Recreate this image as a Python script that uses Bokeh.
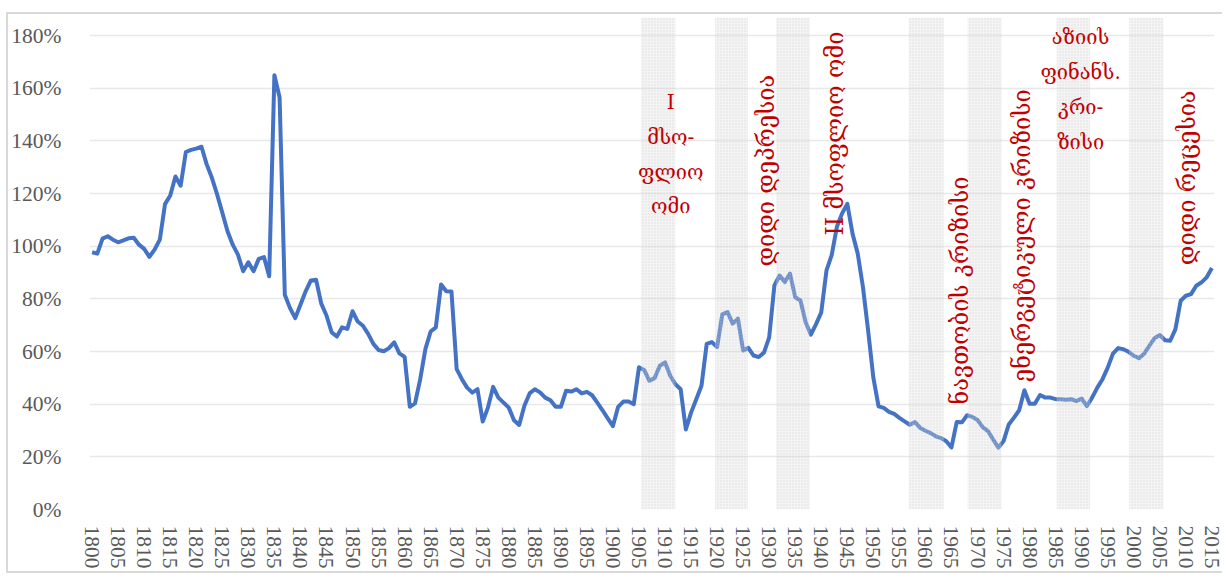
from bokeh.plotting import figure
from bokeh.models import FixedTicker, PrintfTickFormatter, Range1d
from bokeh.core.properties import value
from bokeh.embed import file_html
from bokeh.resources import INLINE

years = list(range(1800, 2016))
debt_pct = [
    97.7, 97.2, 102.9, 103.8, 102.5, 101.5, 102.2, 103.0, 103.2, 100.6,
    99.0, 96.0, 98.7, 102.5, 116.0, 119.3, 126.5, 123.0, 135.8, 136.6,
    137.1, 137.8, 131.1, 126.0, 119.7, 112.7, 105.7, 100.6, 96.8, 90.5,
    93.9, 90.5, 95.2, 95.9, 88.6, 165.0, 156.5, 81.6, 76.5, 72.7,
    77.8, 82.9, 87.0, 87.3, 78.2, 73.7, 67.3, 65.7, 69.2, 68.6,
    75.3, 71.4, 69.8, 66.7, 62.9, 60.6, 60.1, 61.3, 63.5, 59.3,
    58.0, 39.0, 40.3, 49.5, 61.0, 67.6, 69.2, 85.5, 82.9, 82.8,
    53.3, 49.5, 46.3, 44.4, 45.7, 33.4, 38.7, 46.6, 42.5, 40.6,
    38.7, 33.9, 32.1, 39.4, 44.1, 45.7, 44.5, 42.5, 41.5, 39.0,
    39.0, 45.1, 44.8, 45.7, 44.1, 44.7, 43.4, 40.6, 37.7, 34.6,
    31.7, 39.0, 41.0, 41.0, 40.0, 54.0, 53.0, 48.9, 49.9, 54.6,
    55.9, 50.8, 47.6, 45.7, 30.4, 36.8, 41.9, 47.0, 62.9, 63.6,
    61.7, 74.1, 75.0, 70.6, 72.5, 60.4, 61.4, 58.5, 57.9, 59.6,
    65.4, 85.1, 88.9, 86.4, 89.6, 80.6, 79.4, 71.1, 66.4, 70.4,
    74.9, 90.8, 96.6, 107.4, 112.5, 116.1, 104.8, 97.2, 84.5, 67.9,
    50.1, 39.2, 38.6, 37.1, 36.3, 34.8, 33.5, 32.2, 33.2, 31.0,
    29.9, 29.0, 27.8, 27.1, 25.9, 23.6, 33.2, 33.1, 35.8, 35.2,
    34.0, 31.3, 29.8, 26.6, 23.5, 26.0, 32.3, 34.9, 37.7, 45.3,
    40.2, 40.2, 43.5, 42.5, 42.5, 41.9, 41.9, 41.7, 41.9, 41.2,
    42.1, 39.3, 42.5, 46.3, 49.5, 53.9, 59.2, 61.3, 60.9, 59.9,
    58.4, 57.5, 59.2, 62.2, 65.1, 66.3, 64.3, 64.1, 68.5, 79.3,
    81.2, 81.8, 85.0, 86.3, 88.2, 91.7,
]

band_start = [1905.4, 1919.6, 1931.3, 1956.8, 1968.1, 1985.2, 1999.1]
band_end = [1912.0, 1925.9, 1937.8, 1963.5, 1974.6, 1991.6, 2005.7]

y_ticks = [0, 20, 40, 60, 80, 100, 120, 140, 160, 180]
x_ticks = list(range(1800, 2016, 5))

h_labels = ["I\nმსო-\nფლიო\nომი", "აზიის\nფინანს.\nკრი-\nზისი"]
h_x = [1911.1, 1989.8]
h_y = [135.0, 159.5]

v_labels = ["დიდი დეპრესია", "II მსოფლიო ომი", "ნავთობის კრიზისი",
            "ენერგეტიკული კრიზისი", "დიდი რეცესია"]
v_x = [1929.4, 1942.6, 1966.6, 1978.5, 2010.3]
v_y = [128.7, 142.8, 83.2, 104.0, 126.0]

Y_TOP = 186.9

p = figure(width=1216, height=561, output_backend="svg", toolbar_location=None,
           x_range=Range1d(1799.5, 2015.5), y_range=Range1d(0, Y_TOP),
           min_border_left=80, min_border_right=10, min_border_top=3,
           min_border_bottom=66)
p.styles = {"border": "2px solid #d9d9d9", "border-right": "none",
            "margin-left": "6px", "margin-top": "12px"}
p.outline_line_color = None
p.background_fill_color = "white"

p.line(years, debt_pct, line_color="#4472C4", line_width=4, line_join="round")

p.quad(left=band_start, right=band_end, bottom=0, top=Y_TOP,
       fill_color="#dcdcdc", fill_alpha=0.3, line_color=None,
       hatch_pattern="dot", hatch_color="#c4c4c4", hatch_scale=3, hatch_alpha=0.5)

p.text(h_x, h_y, text=h_labels, text_align="center", text_baseline="middle",
       text_color="#C00000", text_font=value("DejaVu Serif"),
       text_font_size="20px", text_line_height=1.45)
p.text(v_x, v_y, text=v_labels, angle=1.5708, text_align="center",
       text_baseline="middle", text_color="#C00000",
       text_font=value("DejaVu Serif"), text_font_size="23.5px")

p.xaxis.ticker = FixedTicker(ticks=x_ticks)
p.xaxis.major_label_orientation = "vertical"
p.xaxis.major_label_text_font = "Liberation Serif"
p.xaxis.major_label_text_font_size = "21.5px"
p.xaxis.major_label_text_color = "#595959"
p.xaxis.major_label_standoff = 10
p.xaxis.axis_line_color = None
p.xaxis.major_tick_line_color = None
p.xaxis.minor_tick_line_color = None

p.yaxis.ticker = FixedTicker(ticks=y_ticks)
p.yaxis.formatter = PrintfTickFormatter(format="%d%%")
p.yaxis.major_label_text_font = "Liberation Serif"
p.yaxis.major_label_text_font_size = "21.5px"
p.yaxis.major_label_text_color = "#595959"
p.yaxis.major_label_standoff = 22
p.yaxis.axis_line_color = None
p.yaxis.major_tick_line_color = None
p.yaxis.minor_tick_line_color = None

p.xgrid.grid_line_color = None
p.ygrid.ticker = FixedTicker(ticks=y_ticks)
p.ygrid.grid_line_color = "#e8e8e8"
p.ygrid.grid_line_width = 1.5

open("out.html", "w").write(file_html(p, INLINE))
